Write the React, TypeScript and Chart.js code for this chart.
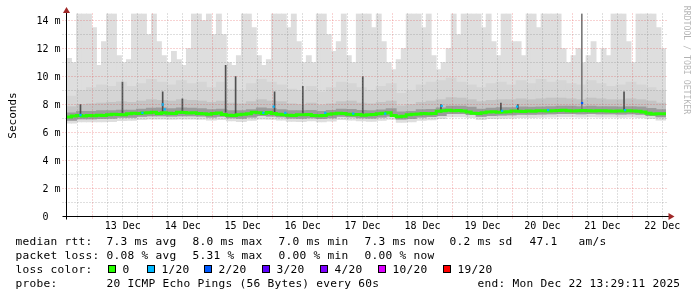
import React, { useEffect, useRef } from "react";
import { Chart, registerables } from "chart.js";

Chart.register(...registerables);

// ---------- time range ----------
const RANGE_HOURS = 240; // Dec 12 13:29:11 -> Dec 22 13:29:11
const START_HOUR_OF_DAY = 13 + 29 / 60 + 11 / 3600;

// ---------- tick labels ----------
const dayLabels = ["13 Dec", "14 Dec", "15 Dec", "16 Dec", "17 Dec", "18 Dec", "19 Dec", "20 Dec", "21 Dec", "22 Dec"];
const yTickValues = [0, 2, 4, 6, 8, 10, 12, 14];
const yTickNumbers = ["0", "2", "4", "6", "8", "10", "12", "14"];
const yTickUnits = ["", "m", "m", "m", "m", "m", "m", "m"];

// ---------- median rtt (ms), one value per 2 h ----------
const medianRtt = [
  7.06, 7.11, 7.18, 7.21, 7.18, 7.21, 7.19, 7.24, 7.21, 7.26,
  7.31, 7.28, 7.26, 7.34, 7.38, 7.36, 7.39, 7.41, 7.44, 7.36,
  7.41, 7.38, 7.36, 7.44, 7.42, 7.39, 7.41, 7.36, 7.34, 7.31,
  7.36, 7.39, 7.28, 7.23, 7.21, 7.26, 7.31, 7.34, 7.44, 7.41,
  7.36, 7.42, 7.36, 7.31, 7.26, 7.24, 7.21, 7.26, 7.26, 7.28,
  7.21, 7.19, 7.21, 7.31, 7.34, 7.38, 7.36, 7.31, 7.26, 7.28,
  7.24, 7.26, 7.28, 7.34, 7.38, 7.41, 7.21, 7.13, 7.16, 7.26,
  7.31, 7.33, 7.36, 7.34, 7.36, 7.51, 7.56, 7.59, 7.56, 7.58,
  7.54, 7.46, 7.38, 7.36, 7.41, 7.46, 7.48, 7.44, 7.46, 7.48,
  7.54, 7.51, 7.50, 7.53, 7.51, 7.55, 7.56, 7.54, 7.56, 7.58,
  7.59, 7.56, 7.53, 7.56, 7.58, 7.56, 7.54, 7.56, 7.56, 7.54,
  7.52, 7.54, 7.53, 7.56, 7.53, 7.51, 7.46, 7.38, 7.33, 7.34,
];

// ---------- highest ping per 2 h (outer smoke) ----------
const pingMax = [
  11.3, 11.0, 14.5, 14.5, 14.5, 13.5, 10.8, 12.5, 14.5, 14.5,
  11.5, 11.0, 11.2, 14.5, 14.5, 14.5, 13.0, 14.5, 12.5, 11.5,
  11.0, 11.8, 11.2, 10.8, 12.0, 14.5, 14.5, 14.0, 14.5, 13.0,
  14.5, 13.0, 11.0, 10.8, 11.5, 14.5, 14.5, 13.5, 11.5, 10.8,
  11.2, 14.5, 14.5, 14.5, 13.5, 14.5, 12.5, 11.0, 11.5, 11.0,
  14.5, 14.5, 13.0, 11.8, 12.5, 14.5, 11.5, 11.0, 14.5, 14.5,
  14.5, 13.5, 14.5, 12.5, 11.0, 10.5, 11.2, 12.0, 14.5, 14.5,
  14.5, 13.5, 14.5, 11.5, 10.5, 11.0, 12.0, 14.5, 13.0, 14.5,
  14.5, 14.5, 14.5, 13.5, 14.5, 12.5, 11.5, 14.5, 14.5, 12.5,
  12.5, 11.5, 14.5, 14.5, 13.5, 14.5, 14.5, 14.5, 14.5, 12.0,
  11.0, 11.5, 12.0, 11.0, 11.5, 12.5, 11.0, 12.0, 11.5, 14.5,
  14.5, 14.5, 12.5, 11.0, 14.5, 14.5, 14.5, 14.5, 13.5, 12.0,
];

// ---------- inner smoke bands, one value per 4 h ----------
const pingMin = [
  6.66, 6.76, 6.76, 6.76, 6.78, 6.84, 6.86, 6.92, 6.96, 6.96,
  6.94, 6.96, 6.96, 6.94, 6.88, 6.92, 6.82, 6.78, 6.86, 6.96,
  6.94, 6.88, 6.80, 6.78, 6.82, 6.76, 6.81, 6.91, 6.88, 6.82,
  6.80, 6.86, 6.94, 6.72, 6.76, 6.86, 6.90, 6.98, 7.11, 7.12,
  7.06, 6.92, 6.98, 7.01, 7.02, 7.06, 7.06, 7.08, 7.10, 7.12,
  7.12, 7.09, 7.12, 7.10, 7.10, 7.08, 7.09, 7.06, 6.98, 6.88,
];
const pingLow = [
  6.86, 6.97, 6.97, 6.99, 7.01, 7.07, 7.08, 7.15, 7.18, 7.18,
  7.17, 7.18, 7.18, 7.16, 7.10, 7.15, 7.04, 7.01, 7.10, 7.20,
  7.17, 7.11, 7.03, 7.01, 7.05, 6.98, 7.04, 7.14, 7.11, 7.05,
  7.03, 7.09, 7.17, 6.95, 6.99, 7.10, 7.13, 7.21, 7.35, 7.35,
  7.28, 7.15, 7.21, 7.24, 7.25, 7.30, 7.29, 7.31, 7.33, 7.35,
  7.35, 7.32, 7.35, 7.33, 7.33, 7.31, 7.32, 7.30, 7.20, 7.11,
];
const pingNear = [
  7.41, 7.51, 7.51, 7.56, 7.56, 7.61, 7.61, 7.68, 7.74, 7.76,
  7.71, 7.76, 7.74, 7.71, 7.64, 7.68, 7.56, 7.56, 7.64, 7.76,
  7.71, 7.64, 7.56, 7.56, 7.58, 7.51, 7.58, 7.68, 7.66, 7.58,
  7.56, 7.62, 7.71, 7.48, 7.52, 7.64, 7.66, 7.76, 7.88, 7.88,
  7.81, 7.68, 7.74, 7.78, 7.78, 7.84, 7.82, 7.84, 7.86, 7.88,
  7.88, 7.86, 7.88, 7.86, 7.86, 7.84, 7.86, 7.83, 7.72, 7.64,
];
const pingUpper = [
  7.85, 8.00, 8.05, 8.10, 8.15, 8.20, 8.15, 8.25, 8.35, 8.30,
  8.25, 8.35, 8.30, 8.25, 8.15, 8.25, 8.10, 8.05, 8.20, 8.35,
  8.25, 8.20, 8.05, 8.00, 8.10, 7.95, 8.05, 8.20, 8.25, 8.10,
  8.05, 8.15, 8.25, 7.90, 8.00, 8.15, 8.25, 8.35, 8.50, 8.45,
  8.35, 8.20, 8.30, 8.35, 8.35, 8.40, 8.35, 8.40, 8.45, 8.45,
  8.40, 8.35, 8.45, 8.40, 8.35, 8.35, 8.40, 8.35, 8.25, 8.10,
];
const pingHigh = [
  8.6, 9.0, 9.2, 9.4, 9.3, 9.6, 9.3, 9.5, 9.8, 9.6,
  9.4, 9.7, 9.5, 9.6, 9.2, 9.6, 9.1, 9.0, 9.5, 9.8,
  9.6, 9.4, 9.1, 9.0, 9.3, 8.9, 9.2, 9.6, 9.5, 9.2,
  9.0, 9.3, 9.5, 8.8, 9.0, 9.4, 9.6, 9.7, 9.9, 9.6,
  9.4, 9.2, 9.5, 9.6, 9.4, 9.7, 9.5, 9.8, 9.6, 9.7,
  9.5, 9.4, 9.7, 9.5, 9.3, 9.4, 9.6, 9.4, 9.2, 9.0,
];

// ---------- single high pings (hours from start) ----------
const spikeHours = [5.6, 22.4, 38.5, 46.4, 63.7, 67.7, 83.3, 94.6, 118.6, 149.9, 173.9, 180.7, 206.3, 223.2];
const spikeBases = [7.25, 7.4, 7.5, 7.5, 7.45, 7.35, 7.45, 7.35, 7.35, 7.45, 7.55, 7.55, 7.6, 7.6];
const spikeTops = [8.0, 9.6, 8.9, 8.4, 10.8, 10.0, 8.9, 9.3, 10.0, 8.0, 8.1, 8.0, 14.5, 8.9];

// ---------- loss marks on the median ----------
const lossHours = [5.6, 30.4, 38.5, 39.3, 78.8, 82.9, 87.6, 103.6, 114.8, 127.6, 150.2, 174.4, 180.4, 192.8, 206.4, 223.6];
const lossValues = [7.25, 7.4, 8.0, 7.65, 7.4, 7.85, 7.4, 7.4, 7.35, 7.35, 7.9, 7.55, 7.85, 7.6, 8.1, 7.6];
const lossCounts = [1, 1, 1, 1, 1, 1, 1, 1, 1, 1, 1, 1, 1, 1, 2, 1];

// ---------- legend ----------
const lossLegendLabels = ["0", "1/20", "2/20", "3/20", "4/20", "10/20", "19/20"];
const lossLegendColors = ["#26ff00", "#00b8ff", "#0059ff", "#5e00ff", "#7e00ff", "#dd00ff", "#ff0000"];
const rttLegend = ["median rtt:", "7.3 ms avg", "8.0 ms max", "7.0 ms min", "7.3 ms now", "0.2 ms sd", "47.1", "am/s"];
const lossLegend = ["packet loss:", "0.08 % avg", "5.31 % max", "0.00 % min", "0.00 % now"];
const probeLegend = ["probe:", "20 ICMP Echo Pings (56 Bytes) every 60s", "end: Mon Dec 22 13:29:11 2025"];

const MONO = '"DejaVu Sans Mono", "Liberation Mono", monospace';
const MINOR = "rgba(128,128,128,0.5)";
const MAJOR = "rgba(224,60,60,0.45)";
const ARROW = "#a02828";

const rrdPlugin = {
  id: "rrd",
  afterDatasetsDraw(chart: any) {
    const { ctx, chartArea: a, scales } = chart;
    const xs = scales.x;
    const ys = scales.y;
    const x0 = Math.floor(xs.getPixelForValue(0)) + 0.5;
    const y0 = Math.floor(ys.getPixelForValue(0)) + 0.5;
    ctx.save();
    ctx.lineWidth = 1;
    ctx.setLineDash([1, 2]);
    for (let v = 1; v <= 14; v++) {
      const py = Math.floor(ys.getPixelForValue(v)) + 0.5;
      ctx.strokeStyle = v % 2 === 0 ? MAJOR : MINOR;
      ctx.beginPath();
      ctx.moveTo(x0 - 4, py);
      ctx.lineTo(a.right + 1, py);
      ctx.stroke();
    }
    const firstMidnight = 24 - START_HOUR_OF_DAY;
    for (let k = -1; k < 44; k++) {
      const h = firstMidnight + 6 * k;
      if (h <= 0 || h >= RANGE_HOURS) continue;
      const px = Math.floor(xs.getPixelForValue(h)) + 0.5;
      ctx.strokeStyle = ((k % 4) + 4) % 4 === 0 ? MAJOR : MINOR;
      ctx.beginPath();
      ctx.moveTo(px, a.top);
      ctx.lineTo(px, y0 + 3);
      ctx.stroke();
    }
    ctx.setLineDash([]);
    ctx.strokeStyle = "#000";
    ctx.beginPath();
    ctx.moveTo(x0 - 4, y0);
    ctx.lineTo(a.right + 3, y0);
    ctx.stroke();
    ctx.beginPath();
    ctx.moveTo(x0, y0 + 3);
    ctx.lineTo(x0, a.top - 1);
    ctx.stroke();
    ctx.fillStyle = ARROW;
    ctx.beginPath();
    ctx.moveTo(x0 - 3.5, a.top - 0.5);
    ctx.lineTo(x0 + 3.5, a.top - 0.5);
    ctx.lineTo(x0, a.top - 6.5);
    ctx.closePath();
    ctx.fill();
    ctx.beginPath();
    ctx.moveTo(a.right + 2.5, y0 - 3.5);
    ctx.lineTo(a.right + 2.5, y0 + 3.5);
    ctx.lineTo(a.right + 8.5, y0);
    ctx.closePath();
    ctx.fill();
    ctx.restore();
  },
  afterDraw(chart: any) {
    const { ctx, scales } = chart;
    const xs = scales.x;
    const ys = scales.y;
    const x0 = Math.floor(xs.getPixelForValue(0)) + 0.5;
    const y0 = Math.floor(ys.getPixelForValue(0)) + 0.5;
    ctx.save();
    ctx.fillStyle = "#000";
    ctx.textBaseline = "alphabetic";

    ctx.font = `10px ${MONO}`;
    ctx.textAlign = "center";
    const firstMidnight = 24 - START_HOUR_OF_DAY;
    dayLabels.forEach((t, k) => {
      ctx.fillText(t, xs.getPixelForValue(firstMidnight + 12 + 24 * k), y0 + 12.5);
    });

    ctx.textAlign = "right";
    const cw = ctx.measureText("0").width;
    yTickValues.forEach((v, k) => {
      const py = Math.floor(ys.getPixelForValue(v)) + 0.5 + 3.7;
      ctx.fillText(yTickNumbers[k], x0 - 6 - 2 * cw, py);
      if (yTickUnits[k]) ctx.fillText(yTickUnits[k], x0 - 6, py);
    });

    ctx.font = `11px ${MONO}`;
    ctx.textAlign = "center";
    ctx.save();
    ctx.translate(15.5, (ys.top + y0) / 2 + 0.5);
    ctx.rotate(-Math.PI / 2);
    ctx.fillText("Seconds", 0, 0);
    ctx.restore();

    ctx.save();
    ctx.fillStyle = "rgba(0,0,0,0.3)";
    ctx.font = `8.2px ${MONO}`;
    ctx.translate(683.5, 60);
    ctx.rotate(Math.PI / 2);
    ctx.fillText("RRDTOOL / TOBI OETIKER", 0, 0);
    ctx.restore();

    ctx.font = `11.2px ${MONO}`;
    try { (ctx as any).letterSpacing = "0.26px"; } catch (e) {}
    ctx.textAlign = "left";
    const row1X = [16, 107, 193, 279, 365, 450, 530, 579];
    rttLegend.forEach((t, k) => ctx.fillText(t, row1X[k] - 0.5, 245));
    const row2X = [16, 107, 193, 279, 365];
    lossLegend.forEach((t, k) => ctx.fillText(t, row2X[k] - 0.5, 259));
    ctx.fillText("loss color:", 15.5, 273);
    const boxX = [108, 147, 204, 262, 320, 378, 443];
    lossLegendLabels.forEach((t, k) => {
      ctx.fillStyle = lossLegendColors[k];
      ctx.fillRect(boxX[k], 265, 8, 8);
      ctx.strokeStyle = "#000";
      ctx.lineWidth = 1;
      ctx.strokeRect(boxX[k] + 0.5, 265.5, 7, 7);
      ctx.fillStyle = "#000";
      ctx.fillText(t, boxX[k] + 14.5, 273);
    });
    const row4X = [16, 107, 478];
    probeLegend.forEach((t, k) => ctx.fillText(t, row4X[k] - 0.5, 287));
    ctx.restore();
  },
};

export default function App() {
  const ref = useRef<HTMLCanvasElement | null>(null);
  useEffect(() => {
    if (!ref.current) return;
    const colH = RANGE_HOURS / pingMax.length;
    const bandH = RANGE_HOURS / pingMin.length;
    const outer = pingMax.map((v, i) => ({ x: colH * (i + 0.5), y: [pingMin[Math.floor((i * colH) / bandH)], v] }));
    const band = (hi: number[]) => hi.map((v, j) => ({ x: bandH * (j + 0.5), y: [pingLow[j], v] }));
    const medianPts = medianRtt.map((v, i) => ({ x: colH * i, y: v }));
    medianPts.push({ x: RANGE_HOURS, y: medianRtt[medianRtt.length - 1] });
    const colPx = (ref.current.width - 66.5 - 31) / pingMax.length;

    const barCommon = { grouped: false, borderWidth: 0, borderSkipped: false as any };
    const chart = new Chart(ref.current, {
      type: "bar",
      data: {
        datasets: [
          {
            type: "line",
            data: lossHours.map((h, k) => ({ x: h, y: lossValues[k] })),
            showLine: false,
            pointStyle: "rect",
            pointRadius: 1.6,
            pointBorderWidth: 0,
            pointBackgroundColor: (c: any) => lossLegendColors[lossCounts[c.dataIndex]] || lossLegendColors[1],
            order: 0,
          } as any,
          {
            type: "line",
            data: medianPts,
            stepped: "after",
            borderColor: "#26ff00",
            borderWidth: 3,
            pointRadius: 0,
            order: 1,
          } as any,
          {
            ...barCommon,
            data: spikeHours.map((h, k) => ({ x: h, y: [spikeBases[k], spikeTops[k]] })),
            backgroundColor: (c: any) => (spikeTops[c.dataIndex] > 12 ? "#7a7a7a" : "#505050"),
            barThickness: 1,
            order: 2,
          } as any,
          { ...barCommon, data: band(pingNear), backgroundColor: "#9c9c9c", barThickness: colPx * 2 + 0.2, order: 3 } as any,
          { ...barCommon, data: band(pingUpper), backgroundColor: "#c4c4c4", barThickness: colPx * 2 + 0.2, order: 4 } as any,
          { ...barCommon, data: band(pingHigh), backgroundColor: "#d5d5d5", barThickness: colPx * 2 + 0.2, order: 5 } as any,
          { ...barCommon, data: outer, backgroundColor: "#dedede", barThickness: colPx + 0.2, order: 6 } as any,
        ],
      },
      options: {
        responsive: false,
        animation: false,
        devicePixelRatio: 1,
        layout: { padding: { left: 66.5, right: 31, top: 13.5, bottom: 80.5 } },
        plugins: { legend: { display: false }, tooltip: { enabled: false } },
        events: [],
        scales: {
          x: { type: "linear", min: 0, max: RANGE_HOURS, offset: false, display: false },
          y: { type: "linear", min: 0, max: 14.5, display: false },
        },
      },
      plugins: [rrdPlugin],
    });
    return () => chart.destroy();
  }, []);
  return (
    <canvas
      ref={ref}
      width={697}
      height={297}
      style={{ position: "fixed", left: 0, top: 0, width: 697, height: 297, background: "#fff", display: "block" }}
    />
  );
}
